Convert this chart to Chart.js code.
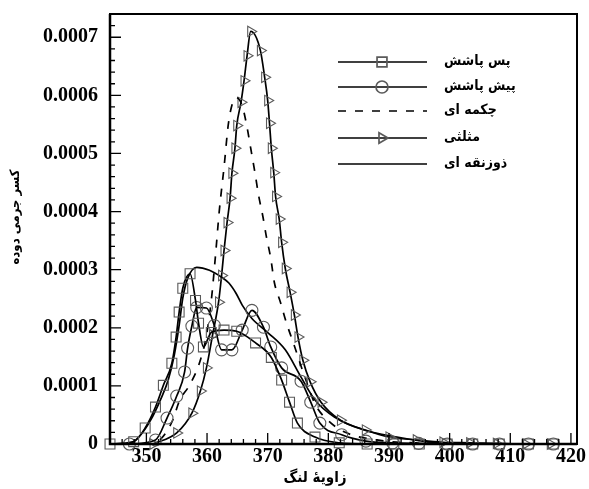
<!DOCTYPE html>
<html><head><meta charset="utf-8">
<script src="https://cdn.jsdelivr.net/npm/chart.js@4.4.1/dist/chart.umd.min.js"></script>
<style>html,body{margin:0;padding:0;background:#fff}#wrap{width:589px;height:489px;position:relative}</style>
</head><body><div id="wrap"><canvas id="c"></canvas></div>
<script>
// ---- data ----
const seriesNames = ['پس پاشش', 'پیش پاشش', 'چکمه ای', 'مثلثی', 'ذوزنقه ای'];
const xTitle = 'زاویهٔ لنگ';
const yTitle = 'کسر جرمی دوده';
const xTickValues = [350, 360, 370, 380, 390, 400, 410, 420];
const yTickValues = [0, 0.0001, 0.0002, 0.0003, 0.0004, 0.0005, 0.0006, 0.0007];

const squareX = [344, 347.9, 349.8, 351.5, 352.8, 354.2, 354.9, 355.4, 356.0, 357.2, 358.1, 358.6, 359.4, 360.7, 362.8, 364.9, 368.0, 370.6, 372.3, 373.6, 374.9, 377.8, 381.8, 386.4, 390.8, 395.0, 399.6, 403.8, 408.2, 413.0, 417.1];
const squareY = [0, 0.000004, 0.0000275, 0.0000636, 0.000101, 0.000139, 0.000184, 0.000227, 0.000268, 0.000293, 0.000247, 0.000208, 0.000167, 0.000192, 0.000196, 0.000194, 0.000174, 0.000149, 0.00011, 0.000072, 0.000036, 0.000012, 0.000002, 0, 0, 0, 0, 0, 0, 0, 0];

const circleX = [347.2, 351.5, 353.4, 355.0, 356.3, 356.8, 357.5, 358.3, 359.9, 361.2, 362.4, 364.1, 365.8, 367.4, 369.3, 370.5, 372.3, 375.5, 377.1, 378.6, 382.2, 386.2, 390.6, 394.9, 399.6, 403.8, 408.2, 413.0, 417.1];
const circleY = [0, 0.000007, 0.0000447, 0.0000825, 0.000124, 0.000165, 0.000203, 0.000235, 0.000234, 0.000204, 0.000162, 0.000162, 0.000196, 0.00023, 0.000201, 0.000167, 0.000131, 0.000108, 0.000072, 0.000036, 0.000016, 0.000005, 0.000002, 0.000001, 0, 0, 0, 0, 0];

const dashX = [344, 350.5, 352.5, 354.3, 355.5, 357.1, 358.8, 359.9, 360.7, 361.4, 362.0, 362.8, 363.6, 364.8, 365.8, 366.6, 367.2, 367.9, 368.5, 369.2, 369.8, 370.5, 371.1, 372.1, 373.1, 374.2, 376.2, 377.9, 379.9, 382.6, 388.0, 394.5, 421];
const dashY = [0, 0, 0.00001, 0.00004, 0.0000756, 0.000101, 0.000141, 0.000187, 0.000247, 0.000325, 0.000399, 0.000476, 0.000557, 0.000596, 0.000582, 0.000545, 0.000509, 0.000467, 0.000428, 0.000392, 0.000356, 0.00032, 0.000278, 0.000244, 0.000208, 0.000175, 0.000113, 0.000067, 0.000041, 0.000021, 0.000007, 0.000002, 0];

const triX = [351.1, 355.0, 357.5, 358.9, 359.9, 360.9, 361.9, 362.4, 362.8, 363.3, 363.8, 364.1, 364.6, 364.9, 365.6, 366.1, 366.6, 367.2, 368.8, 369.5, 370.0, 370.3, 370.6, 371.0, 371.3, 371.9, 372.3, 372.9, 373.7, 374.4, 375.0, 375.8, 377.0, 378.8, 382.0, 386.1, 390.0, 394.5, 398.9, 403.3, 407.7, 412.5, 416.6];
const triY = [0, 0.000019, 0.000053, 0.000091, 0.000131, 0.000187, 0.000244, 0.00029, 0.000333, 0.000381, 0.000423, 0.000466, 0.000509, 0.000548, 0.000588, 0.000625, 0.000668, 0.00071, 0.000677, 0.000631, 0.000591, 0.000552, 0.000509, 0.000467, 0.000426, 0.000387, 0.000347, 0.000302, 0.000261, 0.000222, 0.000184, 0.000144, 0.000107, 0.000072, 0.000041, 0.000024, 0.000012, 0.000007, 0.000003, 0.000002, 0.000001, 0, 0];

const trapX = [344, 347.1, 349.0, 350.7, 352.3, 353.6, 354.6, 355.4, 356.0, 356.8, 358.3, 360.4, 362.4, 363.6, 364.8, 365.8, 367.4, 370.1, 372.9, 375.5, 377.8, 381.0, 385.9, 391.3, 396.6, 404, 421];
const trapY = [0, 0, 0.000015, 0.000041, 0.0000756, 0.00011, 0.000153, 0.000204, 0.000251, 0.000285, 0.000304, 0.000299, 0.000287, 0.000277, 0.000259, 0.000239, 0.000216, 0.000191, 0.000162, 0.000115, 0.0000756, 0.0000464, 0.000024, 0.000012, 0.0000034, 0, 0];

// ---- build ----
const pts = (xs, ys) => xs.map((x, i) => ({x: x, y: ys[i]}));
const markerColor = '#5a5a5a';
function ds(name, xs, ys, style, rot, radius, dash) {
  return {
    label: name, data: pts(xs, ys),
    borderColor: '#000', borderWidth: 1.7, borderDash: dash || [],
    pointStyle: style || 'circle', rotation: rot || 0,
    pointRadius: style ? radius : 0,
    pointBackgroundColor: 'rgba(255,255,255,0)', pointBorderColor: markerColor, pointBorderWidth: 1.1,
    cubicInterpolationMode: 'monotone', fill: false, clip: false
  };
}
const datasets = [
  ds(seriesNames[0], squareX, squareY, 'rect', 0, 7),
  ds(seriesNames[1], circleX, circleY, 'circle', 0, 6),
  ds(seriesNames[2], dashX, dashY, null, 0, 0, [8, 9]),
  ds(seriesNames[3], triX, triY, 'triangle', 90, 6),
  ds(seriesNames[4], trapX, trapY, null, 0, 0)
];

const tickFont = {family: '"Liberation Serif", "Times New Roman", serif', size: 20, weight: 'bold'};
const persianFont = 'bold 14px "DejaVu Sans Condensed", "DejaVu Sans", sans-serif';

function drawMarker(ctx, style, rot, r, x, y) {
  if (Chart.helpers && Chart.helpers.drawPoint) {
    Chart.helpers.drawPoint(ctx, {pointStyle: style, rotation: rot, radius: r, borderWidth: 1.1}, x, y);
  }
}

const decor = {
  id: 'decor',
  afterDatasetsDraw(chart) {
    const ctx = chart.ctx, a = chart.chartArea;
    const xs = chart.scales.x, ys = chart.scales.y;
    ctx.save();
    ctx.strokeStyle = '#000';
    ctx.lineWidth = 1.3;
    ctx.beginPath();
    for (let v = 344; v <= 420.001; v += 2) {
      const p = xs.getPixelForValue(v);
      const major = Math.abs(v % 10) < 1e-6;
      ctx.moveTo(p, a.bottom); ctx.lineTo(p, a.bottom - (major ? 11 : 5));
    }
    for (let k = 0; k <= 37; k++) {
      const v = k * 0.00002;
      if (v > ys.max) break;
      const p = ys.getPixelForValue(v);
      const major = k % 5 === 0;
      ctx.moveTo(a.left, p); ctx.lineTo(a.left + (major ? 11 : 5), p);
    }
    ctx.stroke();
    ctx.lineWidth = 2;
    ctx.strokeRect(a.left, a.top, a.right - a.left, a.bottom - a.top);
    ctx.lineWidth = 2.5;
    ctx.beginPath(); ctx.moveTo(a.left, a.top); ctx.lineTo(a.left, a.bottom); ctx.lineTo(a.right, a.bottom); ctx.stroke();

    const rowsY = [62, 87, 111, 138, 164];
    chart.data.datasets.forEach((d, i) => {
      const y = rowsY[i];
      ctx.strokeStyle = '#000'; ctx.lineWidth = 1.7;
      ctx.setLineDash(d.borderDash || []);
      ctx.beginPath(); ctx.moveTo(338, y); ctx.lineTo(427, y); ctx.stroke();
      ctx.setLineDash([]);
      if (d.pointRadius > 0) {
        ctx.strokeStyle = markerColor; ctx.fillStyle = 'rgba(255,255,255,0)';
        drawMarker(ctx, d.pointStyle, d.rotation, d.pointRadius, 382, y);
      }
      ctx.fillStyle = '#000'; ctx.font = persianFont;
      ctx.textAlign = 'left'; ctx.textBaseline = 'middle';
      ctx.fillText(d.label, 444, y - 1);
    });

    ctx.fillStyle = '#000';
    ctx.font = 'bold 15px "DejaVu Sans Condensed", "DejaVu Sans", sans-serif';
    ctx.textAlign = 'center'; ctx.textBaseline = 'middle';
    ctx.fillText(xTitle, 315, 478);
    ctx.save();
    ctx.translate(16, 217); ctx.rotate(-Math.PI / 2);
    ctx.font = 'bold 13px "DejaVu Sans Condensed", "DejaVu Sans", sans-serif';
    ctx.fillText(yTitle, 0, 0);
    ctx.restore();
    ctx.restore();
  }
};

new Chart(document.getElementById('c'), {
  type: 'line',
  data: {datasets: datasets},
  options: {
    responsive: true, maintainAspectRatio: false, animation: false, devicePixelRatio: 1,
    layout: {padding: {left: 0, right: 12, top: 14, bottom: 0}},
    plugins: {legend: {display: false}, tooltip: {enabled: false}},
    scales: {
      x: {
        type: 'linear', min: 344, max: 421,
        grid: {display: false, drawTicks: false}, border: {display: false},
        afterBuildTicks: s => { s.ticks = xTickValues.map(v => ({value: v})); },
        afterFit: s => { s.height = 45; s.paddingLeft = 0; s.paddingRight = 0; },
        ticks: {font: tickFont, color: '#000', padding: 1, maxRotation: 0, autoSkip: false, callback: v => String(v)}
      },
      y: {
        type: 'linear', min: 0, max: 0.00074,
        grid: {display: false, drawTicks: false}, border: {display: false},
        afterBuildTicks: s => { s.ticks = yTickValues.map(v => ({value: v})); },
        afterFit: s => { s.width = 110; s.paddingTop = 0; s.paddingBottom = 0; },
        ticks: {font: tickFont, color: '#000', padding: 12, autoSkip: false, callback: v => v === 0 ? '0' : v.toFixed(4)}
      }
    }
  },
  plugins: [decor]
});
</script></body></html>
